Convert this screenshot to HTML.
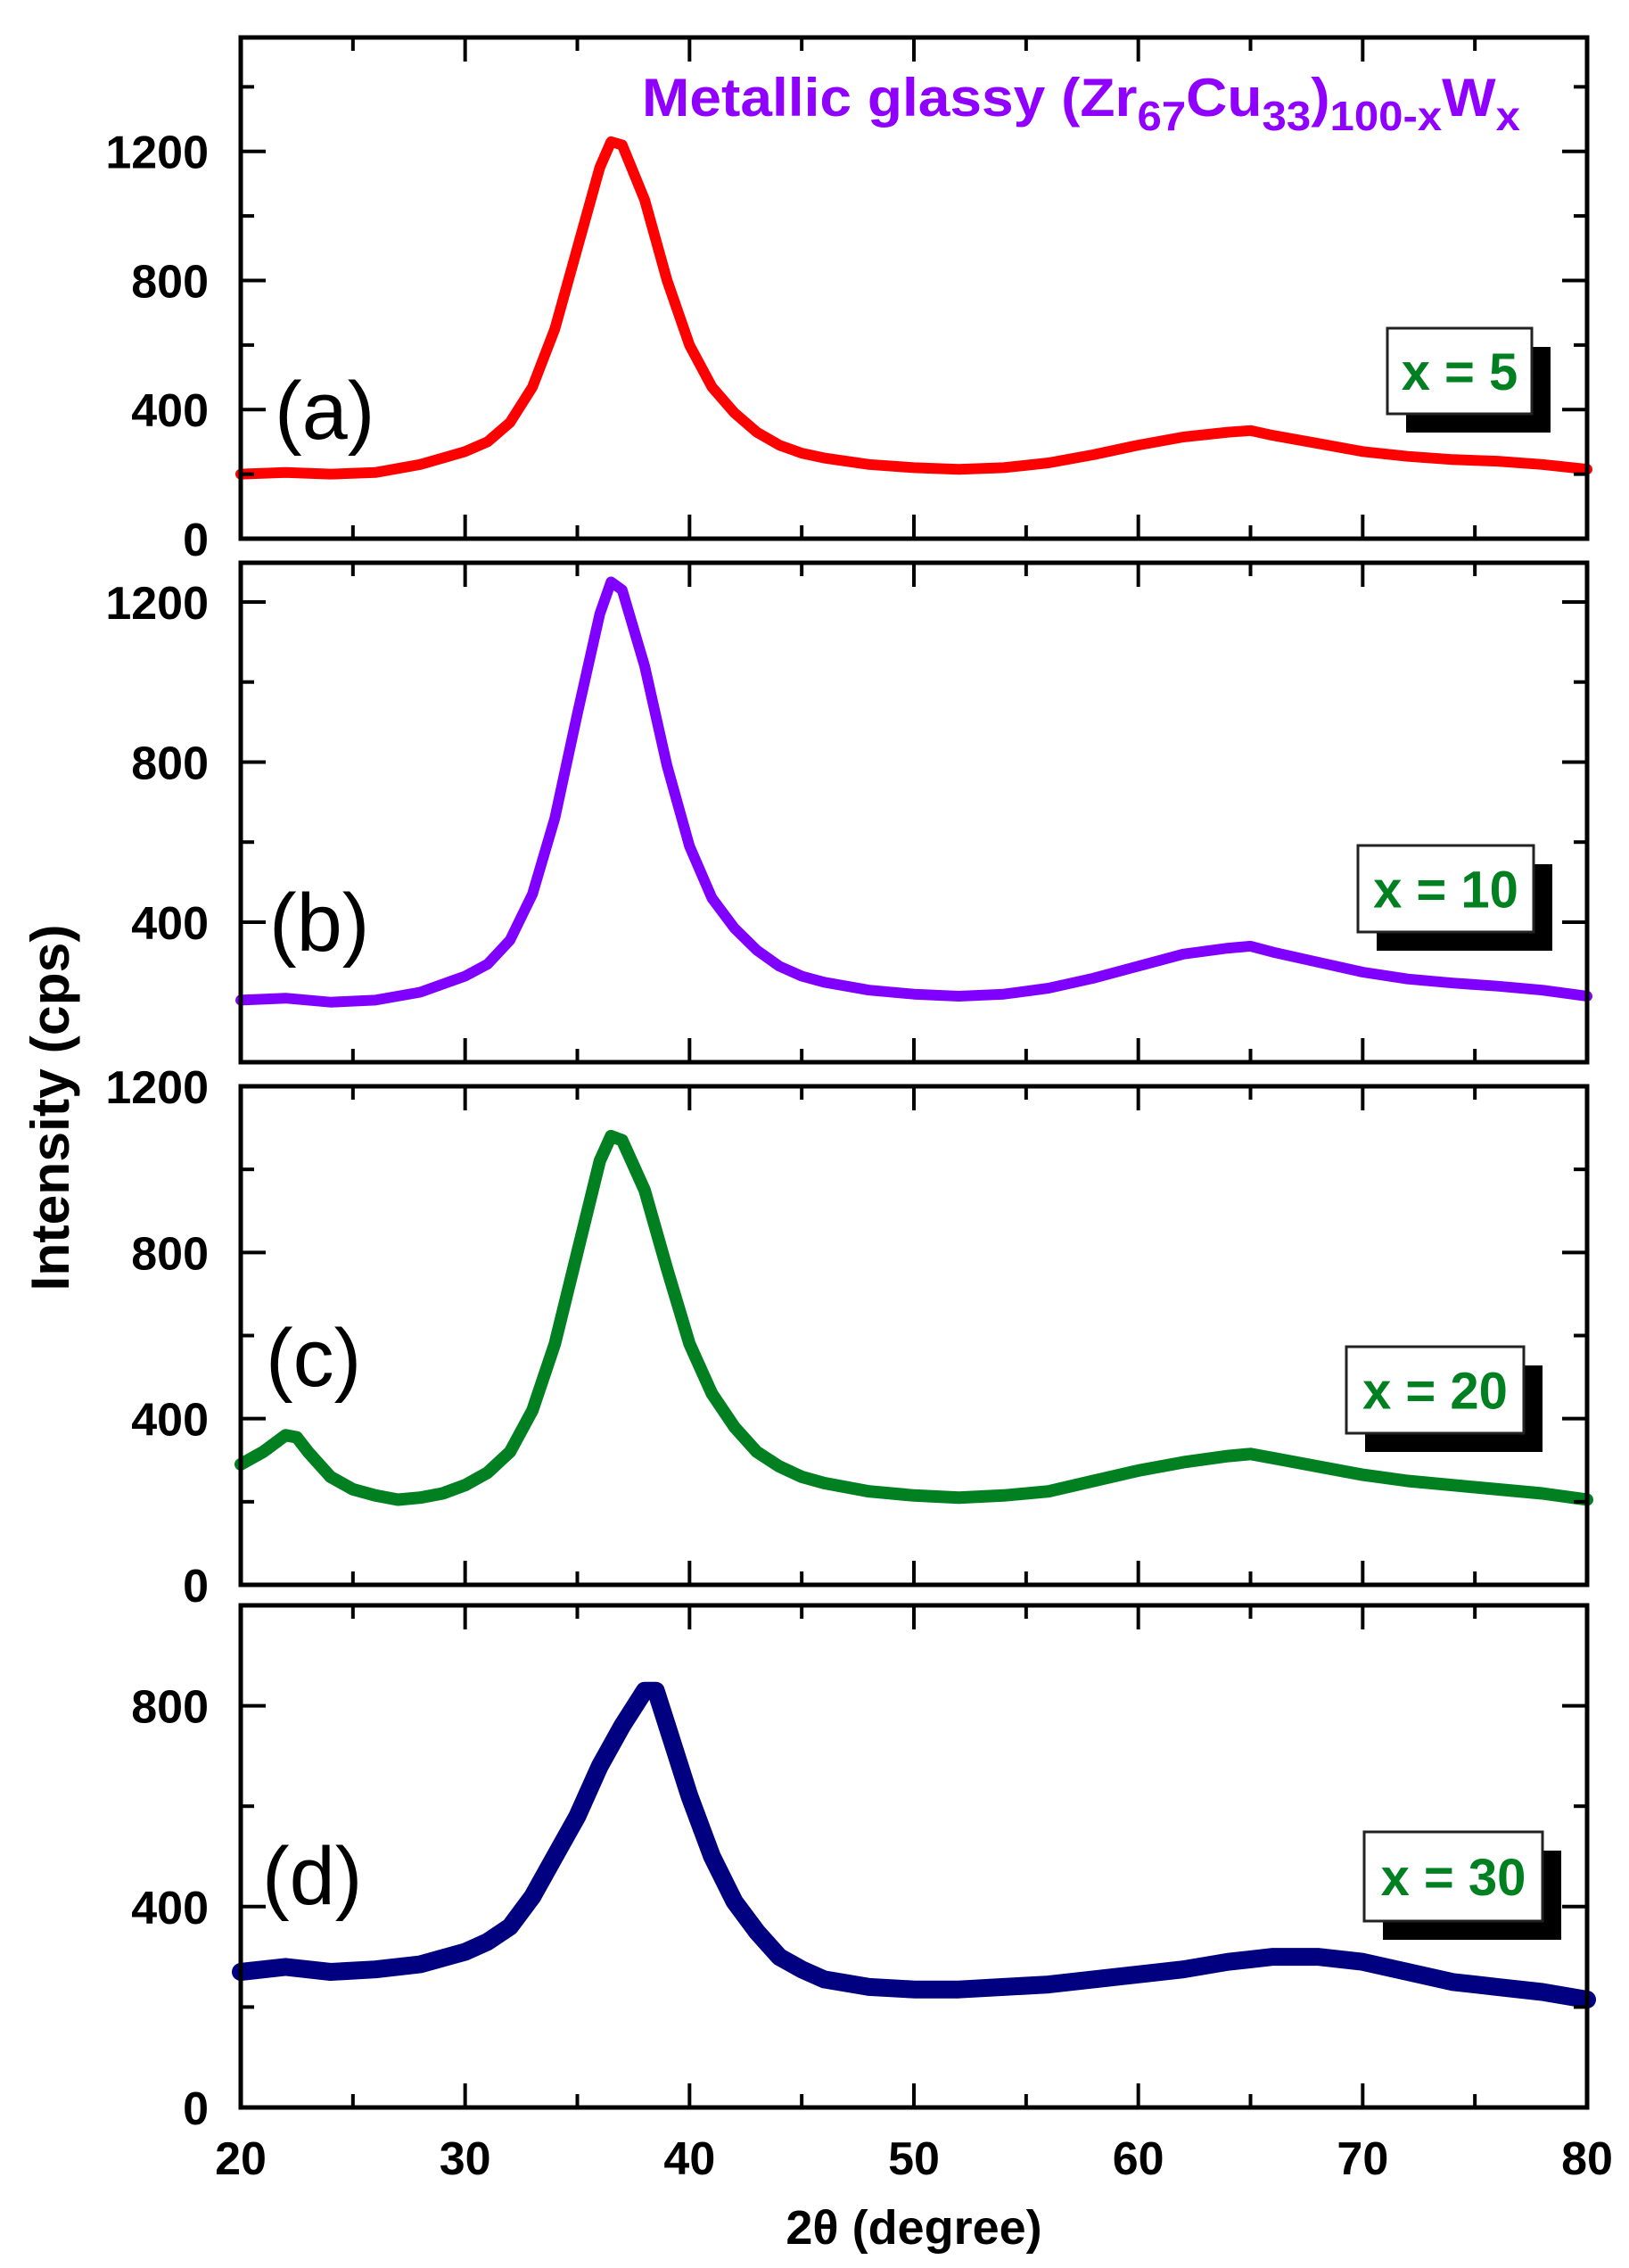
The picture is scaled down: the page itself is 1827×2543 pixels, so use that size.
<!DOCTYPE html>
<html><head><meta charset="utf-8">
<style>
html,body{margin:0;padding:0;background:#fff;}
svg{display:block;font-family:"Liberation Sans",Arial,sans-serif;}
</style></head>
<body>
<svg id="chart" width="1827" height="2543" viewBox="0 0 1827 2543" xmlns="http://www.w3.org/2000/svg">
<rect x="0" y="0" width="1827" height="2543" fill="#fff"/>
<text x="720" y="130" font-size="60" font-weight="bold" fill="#9000ff" textLength="985" lengthAdjust="spacingAndGlyphs">Metallic glassy (Zr<tspan font-size="46" dy="16">67</tspan><tspan dy="-16">Cu</tspan><tspan font-size="46" dy="16">33</tspan><tspan dy="-16">)</tspan><tspan font-size="46" dy="16">100-x</tspan><tspan dy="-16">W</tspan><tspan font-size="46" dy="16">x</tspan></text>
<text transform="translate(77,1242) rotate(-90)" text-anchor="middle" font-size="60" font-weight="bold" fill="#000" textLength="411" lengthAdjust="spacingAndGlyphs">Intensity (cps)</text>
<text x="1025" y="2516" text-anchor="middle" font-size="54" font-weight="bold" fill="#000">2θ (degree)</text>
</svg>
<script>
// ---- data ----
const xTicks = [20, 30, 40, 50, 60, 70, 80];
const xMinor = [25, 35, 45, 55, 65, 75];
const xA = [20,22,24,26,28,30,31,32,33,34,35,36,36.5,37,38,39,40,41,42,43,44,45,46,48,50,52,54,56,58,60,62,64,65,66,68,70,72,74,76,78,80];
const yA = [200,205,200,205,230,270,300,360,470,650,900,1150,1230,1220,1050,800,600,470,390,330,290,265,250,230,220,215,220,235,260,290,315,330,335,320,295,270,255,245,240,230,215];
const xB = [20,22,24,26,28,30,31,32,33,34,35,36,36.5,37,38,39,40,41,42,43,44,45,46,48,50,52,54,56,58,60,62,64,65,66,68,70,72,74,76,78,80];
const yB = [205,210,200,205,225,265,295,355,470,660,920,1170,1250,1230,1040,790,590,460,385,330,290,265,250,230,220,215,220,235,260,290,320,335,340,325,300,275,258,248,240,230,215];
const xC = [20,21,22,22.5,23,24,25,26,27,28,29,30,31,32,33,34,35,36,36.5,37,38,39,40,41,42,43,44,45,46,48,50,52,54,56,58,60,62,64,65,66,68,70,72,74,76,78,80];
const yC = [290,320,360,355,320,260,230,215,205,210,220,240,270,320,420,580,800,1020,1080,1070,950,760,580,460,380,320,285,260,245,225,215,210,215,225,250,275,295,310,315,305,285,265,250,240,230,220,205];
const xD = [20,22,24,26,28,30,31,32,33,34,35,36,37,38,38.5,39,40,41,42,43,44,45,46,48,50,52,54,56,58,60,62,64,66,68,70,72,74,76,78,80];
const yD = [270,280,270,275,285,310,330,360,420,500,580,680,760,830,830,760,620,500,410,350,300,275,255,240,235,235,240,245,255,265,275,290,300,300,290,270,250,240,230,215];
const ticksA = [0,400,800,1200], minorA = [200,600,1000,1400];
const ticksB = [400,800,1200], minorB = [600,1000];
const ticksC = [0,400,800,1200], minorC = [200,600,1000];
const ticksD = [0,400,800], minorD = [200,600];

const panels = [
  {id:'a', top:42, bottom:604, ymin:0, ymax:1553, xs:xA, ys:yA, ticks:ticksA, minor:minorA, color:'#ff0000', sw:12, label:'(a)', lx:308, ly:492, leg:'x = 5', bx:1556, by:368, bw:162, bh:96},
  {id:'b', top:631, bottom:1191, ymin:50, ymax:1298, xs:xB, ys:yB, ticks:ticksB, minor:minorB, color:'#8000ff', sw:12, label:'(b)', lx:302, ly:1066, leg:'x = 10', bx:1523, by:948, bw:197, bh:97},
  {id:'c', top:1218, bottom:1777, ymin:0, ymax:1200, xs:xC, ys:yC, ticks:ticksC, minor:minorC, color:'#008020', sw:14, label:'(c)', lx:298, ly:1554, leg:'x = 20', bx:1510, by:1510, bw:199, bh:97},
  {id:'d', top:1800, bottom:2363, ymin:0, ymax:1000, xs:xD, ys:yD, ticks:ticksD, minor:minorD, color:'#000080', sw:20, label:'(d)', lx:294, ly:2135, leg:'x = 30', bx:1530, by:2054, bw:200, bh:100}
];
const L = 270, R = 1780;
const NS = 'http://www.w3.org/2000/svg';
const svg = document.getElementById('chart');
function xScale(v){ return L + (v - 20) / 60 * (R - L); }
function mk(tag, attrs, parent){
  const e = document.createElementNS(NS, tag);
  for (const k in attrs) e.setAttribute(k, attrs[k]);
  (parent || svg).appendChild(e);
  return e;
}
panels.forEach(p => {
  const g = mk('g', {});
  
  
  const yS = v => p.bottom - (v - p.ymin) / (p.ymax - p.ymin) * (p.bottom - p.top);
  let d = '';
  p.xs.forEach((x, i) => { d += (i ? 'L' : 'M') + xScale(x).toFixed(1) + ',' + yS(p.ys[i]).toFixed(1); });
  const path = mk('path', {d: d, fill: 'none', stroke: p.color, 'stroke-width': p.sw, 'stroke-linejoin': 'round', 'stroke-linecap': 'round'}, g);
  
  
  const fr = mk('rect', {x: L, y: p.top, width: R - L, height: p.bottom - p.top, fill: 'none', stroke: '#000', 'stroke-width': 5}, g);
  
  
  xTicks.forEach(v => {
    const x = xScale(v);
    mk('line', {x1: x, x2: x, y1: p.bottom, y2: p.bottom - 27, stroke: '#000', 'stroke-width': 4}, g);
    mk('line', {x1: x, x2: x, y1: p.top, y2: p.top + 27, stroke: '#000', 'stroke-width': 4}, g);
  });
  xMinor.forEach(v => {
    const x = xScale(v);
    mk('line', {x1: x, x2: x, y1: p.bottom, y2: p.bottom - 15, stroke: '#000', 'stroke-width': 4}, g);
    mk('line', {x1: x, x2: x, y1: p.top, y2: p.top + 15, stroke: '#000', 'stroke-width': 4}, g);
  });
  p.ticks.forEach(v => {
    const y = yS(v);
    mk('line', {x1: L, x2: L + 28, y1: y, y2: y, stroke: '#000', 'stroke-width': 4}, g);
    mk('line', {x1: R, x2: R - 28, y1: y, y2: y, stroke: '#000', 'stroke-width': 4}, g);
    const t = mk('text', {x: 234, y: y + 19, 'text-anchor': 'end', 'font-size': 52, 'font-weight': 'bold', fill: '#000'}, g);
    
    
    t.textContent = v;
  });
  p.minor.forEach(v => {
    const y = yS(v);
    mk('line', {x1: L, x2: L + 15, y1: y, y2: y, stroke: '#000', 'stroke-width': 4}, g);
    mk('line', {x1: R, x2: R - 15, y1: y, y2: y, stroke: '#000', 'stroke-width': 4}, g);
  });
  const pl = mk('text', {x: p.lx, y: p.ly, 'font-size': 92, fill: '#000'}, g);
  
  
  pl.textContent = p.label;
  const lg = mk('g', {}, g);
  
  
  mk('rect', {x: p.bx + 21, y: p.by + 21, width: p.bw, height: p.bh, fill: '#000'}, lg);
  mk('rect', {x: p.bx, y: p.by, width: p.bw, height: p.bh, fill: '#fff', stroke: '#222', 'stroke-width': 3}, lg);
  const lt = mk('text', {x: p.bx + p.bw / 2, y: p.by + p.bh / 2 + 21, 'text-anchor': 'middle', 'font-size': 58, 'font-weight': 'bold', fill: '#008020'}, lg);
  
  
  lt.textContent = p.leg;
});
xTicks.forEach(v => {
  const t = mk('text', {x: xScale(v), y: 2438, 'text-anchor': 'middle', 'font-size': 52, 'font-weight': 'bold', fill: '#000'});
  
  
  t.textContent = v;
});
</script>
</body></html>
